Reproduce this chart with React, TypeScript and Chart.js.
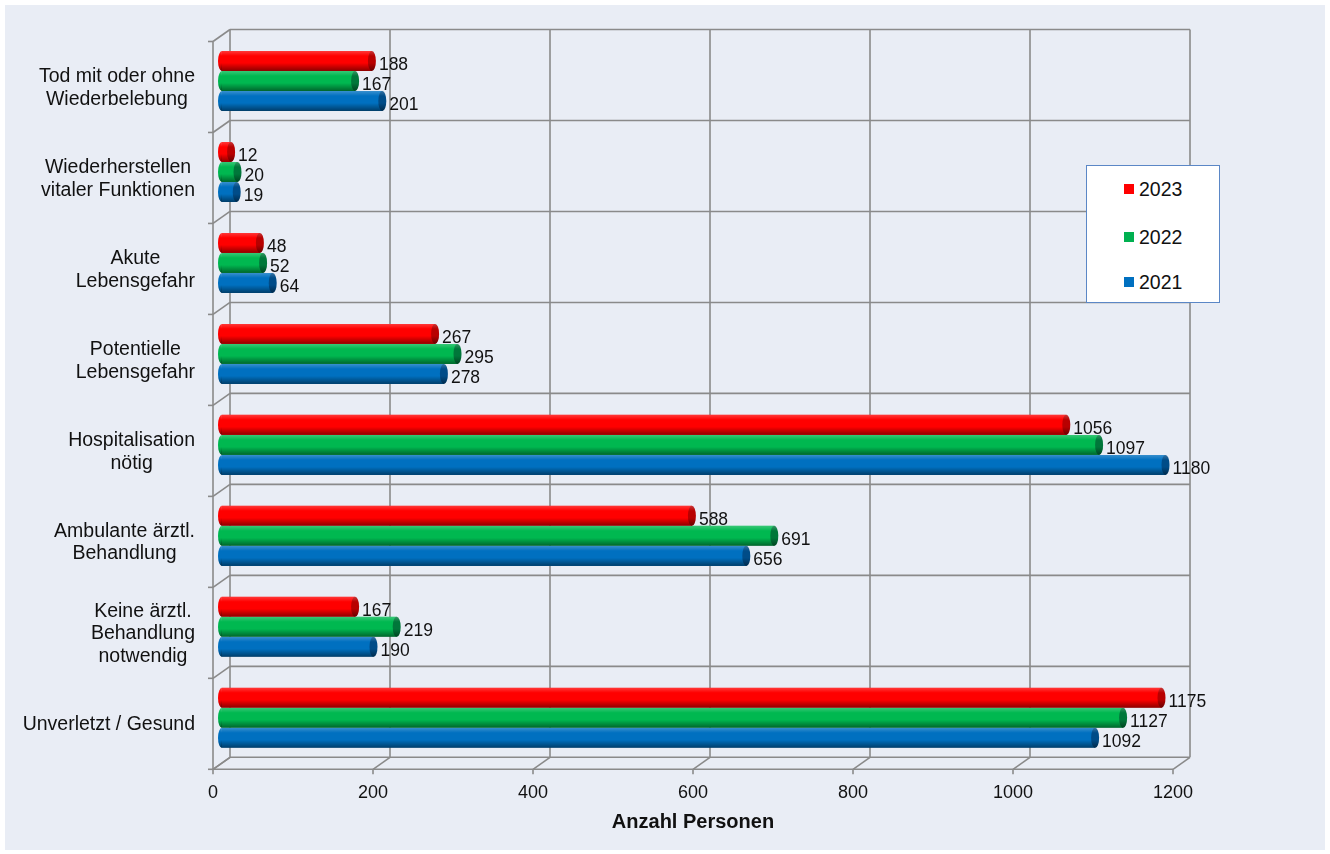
import React, { useEffect, useRef } from 'react';
import { Chart, registerables } from 'chart.js';

Chart.register(...registerables);

// ---------- data ----------
const categories: string[][] = [
  ['Tod mit oder ohne', 'Wiederbelebung'],
  ['Wiederherstellen', 'vitaler Funktionen'],
  ['Akute', 'Lebensgefahr'],
  ['Potentielle', 'Lebensgefahr'],
  ['Hospitalisation', 'nötig'],
  ['Ambulante ärztl.', 'Behandlung'],
  ['Keine ärztl.', 'Behandlung', 'notwendig'],
  ['Unverletzt / Gesund'],
];
const seriesNames = ['2023', '2022', '2021'];
const values2023 = [188, 12, 48, 267, 1056, 588, 167, 1175];
const values2022 = [167, 20, 52, 295, 1097, 691, 219, 1127];
const values2021 = [201, 19, 64, 278, 1180, 656, 190, 1092];
const xTickLabels = ['0', '200', '400', '600', '800', '1000', '1200'];
const xMin = 0;
const xMax = 1200;
const xStep = 200;
const axisTitle = 'Anzahl Personen';

// ---------- style ----------
const FONT = '"Liberation Sans", Arial, sans-serif';
const barColors = ['#FF0000', '#00B850', '#0070C0'];
const capColors = ['#B80000', '#00773A', '#004C88'];
const legendColors = ['#FF0000', '#00B050', '#0070C0'];
const gridColor = '#8A8A8A';
const DX = 8.5;
const DY = 6;

const frame3d = {
  id: 'frame3d',
  beforeDatasetsDraw(chart: any) {
    const { ctx, chartArea: a, scales } = chart;
    const x = scales.x;
    const y = scales.y;
    const n = chart.data.labels.length;
    const x0 = x.getPixelForValue(xMin);
    const x1 = x.getPixelForValue(xMax);
    const bounds: number[] = [];
    for (let i = 0; i <= n; i++) bounds.push(y.getPixelForValue(i - 0.5));
    const tickPx: number[] = x.ticks.map((t: any) => x.getPixelForValue(t.value));
    ctx.save();
    ctx.strokeStyle = gridColor;
    ctx.lineWidth = 1.6;
    const line = (ax: number, ay: number, bx: number, by: number) => {
      ctx.beginPath();
      ctx.moveTo(ax, ay);
      ctx.lineTo(bx, by);
      ctx.stroke();
    };
    // back wall verticals
    tickPx.forEach((px) => line(px + DX, a.top - DY, px + DX, a.bottom - DY));
    // back wall horizontals
    bounds.forEach((b) => line(x0 + DX, b - DY, x1 + DX, b - DY));
    // side wall diagonals
    bounds.forEach((b) => line(x0 - DX, b + DY, x0 + DX, b - DY));
    // floor diagonals
    tickPx.forEach((px) => line(px - DX, a.bottom + DY, px + DX, a.bottom - DY));
    // front axes
    line(x0 - DX, a.top + DY, x0 - DX, a.bottom + DY);
    line(x0 - DX, a.bottom + DY, x1 - DX, a.bottom + DY);
    // tick marks
    bounds.forEach((b) => line(x0 - DX - 5, b + DY, x0 - DX, b + DY));
    tickPx.forEach((px) => line(px - DX, a.bottom + DY, px - DX, a.bottom + DY + 5));
    ctx.restore();
  },
  afterDatasetsDraw(chart: any) {
    const { ctx } = chart;
    ctx.save();
    chart.data.datasets.forEach((ds: any, di: number) => {
      const meta = chart.getDatasetMeta(di);
      meta.data.forEach((el: any, i: number) => {
        const h = el.height;
        const top = el.y - h / 2;
        const g = ctx.createLinearGradient(0, top, 0, top + h);
        g.addColorStop(0, 'rgba(255,255,255,0.22)');
        g.addColorStop(0.25, 'rgba(255,255,255,0)');
        g.addColorStop(0.6, 'rgba(0,0,0,0)');
        g.addColorStop(1, 'rgba(0,0,0,0.45)');
        // left rounded end
        ctx.beginPath();
        ctx.ellipse(el.base + 0.5, el.y, 4, h / 2, 0, Math.PI / 2, Math.PI * 1.5);
        ctx.closePath();
        ctx.fillStyle = barColors[di];
        ctx.fill();
        ctx.fillStyle = g;
        ctx.fill();
        // body shading
        ctx.fillStyle = g;
        ctx.fillRect(el.base, top, el.x - el.base, h);
        // end cap
        ctx.beginPath();
        ctx.ellipse(el.x, el.y, 4, h / 2, 0, 0, Math.PI * 2);
        ctx.fillStyle = capColors[di];
        ctx.fill();
        ctx.fillStyle = g;
        ctx.fill();
        // value label
        ctx.fillStyle = '#111';
        ctx.font = `17.5px ${FONT}`;
        ctx.textAlign = 'left';
        ctx.textBaseline = 'middle';
        ctx.fillText(String(ds.data[i]), el.x + 7, el.y + 4);
      });
    });
    ctx.restore();
  },
  afterDraw(chart: any) {
    const { ctx, chartArea: a, scales } = chart;
    const y = scales.y;
    const x = scales.x;
    ctx.save();
    ctx.fillStyle = '#111';
    ctx.font = `19.5px ${FONT}`;
    ctx.textBaseline = 'middle';
    ctx.textAlign = 'center';
    const lineH = 22.5;
    const rightEdge = a.left - 26.5;
    chart.data.labels.forEach((lab: string[], i: number) => {
      const lines = Array.isArray(lab) ? lab : [lab];
      const w = Math.max(...lines.map((l) => ctx.measureText(l).width));
      const cx = rightEdge - w / 2;
      const cy = y.getPixelForValue(i) + 7;
      lines.forEach((l, k) => {
        ctx.fillText(l, cx, cy - ((lines.length - 1) * lineH) / 2 + k * lineH);
      });
    });
    // axis title
    ctx.font = `bold 20px ${FONT}`;
    const tx = (x.getPixelForValue(xMin) + x.getPixelForValue(xMax)) / 2 - DX;
    ctx.fillText(axisTitle, tx, a.bottom + 58.7);
    ctx.restore();
  },
};

export default function App() {
  const ref = useRef<HTMLCanvasElement>(null);
  useEffect(() => {
    if (!ref.current) return;
    const seriesValues = [values2023, values2022, values2021];
    const chart = new Chart(ref.current, {
      type: 'bar',
      data: {
        labels: categories as any,
        datasets: seriesNames.map((name, i) => ({
          label: name,
          data: seriesValues[i],
          backgroundColor: barColors[i],
          borderWidth: 0,
          barPercentage: 1,
          categoryPercentage: 0.66,
        })),
      },
      options: {
        indexAxis: 'y',
        responsive: false,
        animation: false,
        events: [],
        layout: { padding: { top: 30.5, right: 143.5, left: 0, bottom: 0 } },
        plugins: { legend: { display: false }, tooltip: { enabled: false } },
        scales: {
          x: {
            type: 'linear',
            min: xMin,
            max: xMax,
            border: { display: false },
            grid: { display: false, drawTicks: false },
            ticks: {
              stepSize: xStep,
              autoSkip: false,
              maxRotation: 0,
              padding: 19.2,
              labelOffset: -DX,
              color: '#111',
              font: { family: FONT, size: 18 },
              callback: (_v: any, idx: number) => xTickLabels[idx],
            },
            afterFit: (s: any) => {
              s.height = 86.7;
            },
          },
          y: {
            type: 'category',
            border: { display: false },
            grid: { display: false, drawTicks: false },
            ticks: { display: false },
            afterFit: (s: any) => {
              s.width = 216.5;
            },
          },
        },
      },
      plugins: [frame3d],
    });
    return () => chart.destroy();
  }, []);

  const legendTops = [23, 70.7, 115.7];
  return (
    <div style={{ position: 'absolute', left: 0, top: 0, width: 1330, height: 854, background: '#ffffff', overflow: 'hidden' }}>
      <div style={{ position: 'absolute', left: 5, top: 5, width: 1320, height: 845, background: '#E9EDF5' }}>
        <canvas ref={ref} width={1320} height={845} style={{ display: 'block', width: 1320, height: 845 }} />
      </div>
      <div
        style={{
          position: 'absolute',
          left: 1086,
          top: 165,
          width: 132,
          height: 136,
          background: '#ffffff',
          border: '1px solid #5B87C6',
          fontFamily: FONT,
          fontSize: 19.5,
          color: '#111',
        }}
      >
        {seriesNames.map((name, i) => (
          <div key={name} style={{ position: 'absolute', left: 37, top: legendTops[i] - 12, height: 24, display: 'flex', alignItems: 'center' }}>
            <span style={{ display: 'inline-block', width: 10, height: 10, background: legendColors[i], marginRight: 5 }} />
            <span style={{ lineHeight: '24px' }}>{name}</span>
          </div>
        ))}
      </div>
    </div>
  );
}
